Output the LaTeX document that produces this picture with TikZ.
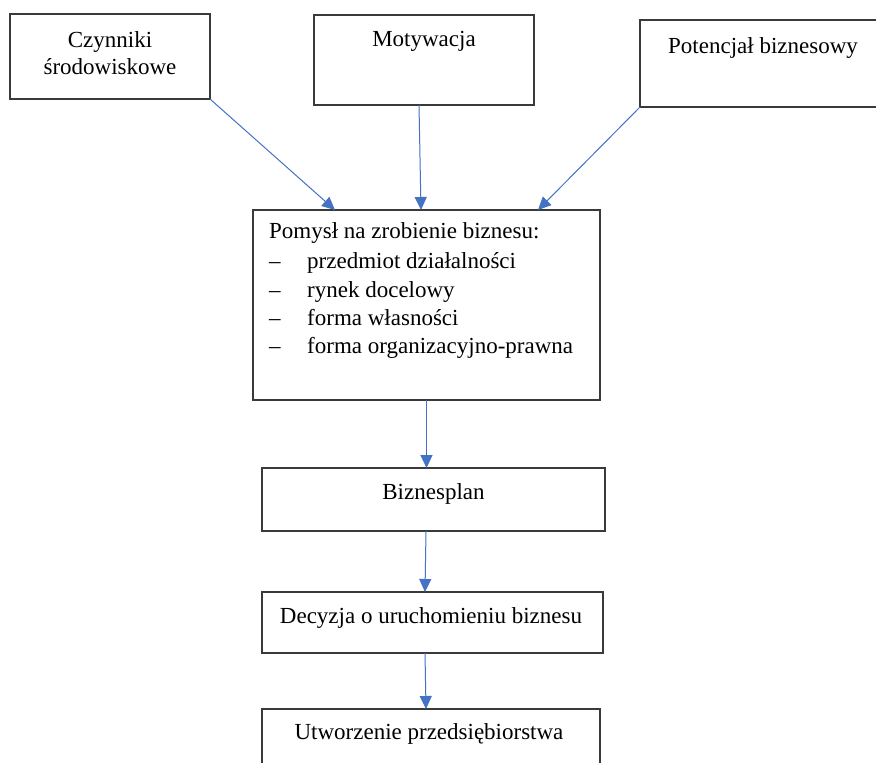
\documentclass[tikz,border=0pt]{standalone}
\usepackage{fontspec}
\setmainfont{Liberation Serif}
\usetikzlibrary{arrows.meta,calc}
\definecolor{arrowblue}{HTML}{4472C4}
\definecolor{framegray}{HTML}{3A3A3A}
\begin{document}
\begin{tikzpicture}[x=1pt,y=-1pt,
  box/.style={draw=framegray,line width=1.2pt,rectangle,inner sep=0pt,outer sep=0pt},
  txt/.style={anchor=base,inner sep=0pt,font=\fontsize{23}{28}\selectfont},
  ltxt/.style={anchor=base west,inner sep=0pt,font=\fontsize{23}{28}\selectfont},
  flow/.style={draw=arrowblue,line width=1pt,-{Triangle[length=13pt,width=12pt]}}]
\clip (0,0) rectangle (876,763);
\fill[white] (0,0) rectangle (876,763);
% boxes
\node[box,minimum width=200pt,minimum height=85pt] (b1) at (110,56.5) {};
\node[box,minimum width=220pt,minimum height=90pt] (b2) at (424,60) {};
\node[box,minimum width=250pt,minimum height=87pt] (b3) at (765,63.5) {};
\node[box,minimum width=347pt,minimum height=190pt] (b4) at (426.5,305) {};
\node[box,minimum width=343pt,minimum height=63pt] (b5) at (433.5,499.5) {};
\node[box,minimum width=341pt,minimum height=61pt] (b6) at (432.5,622.5) {};
\node[box,minimum width=338pt,minimum height=81pt] (b7) at (431,749.5) {};
% texts
\node[txt] (t1a) at (110,47) {Czynniki};
\node[txt] (t1b) at (110,74) {środowiskowe};
\node[txt] (t2) at (424,46) {Motywacja};
\node[txt] (t3) at (763,53) {Potencjał biznesowy};
\node[ltxt] (t4) at (269,238) {Pomysł na zrobienie biznesu:};
\node[ltxt] (d1) at (269,268) {–};
\node[ltxt] (i1) at (307,268) {przedmiot działalności};
\node[ltxt] (d2) at (269,297) {–};
\node[ltxt] (i2) at (307,297) {rynek docelowy};
\node[ltxt] (d3) at (269,325) {–};
\node[ltxt] (i3) at (307,325) {forma własności};
\node[ltxt] (d4) at (269,353) {–};
\node[ltxt] (i4) at (307,353) {forma organizacyjno-prawna};
\node[txt] (t5) at (433.5,499) {Biznesplan};
\node[txt] (t6) at (431,623) {Decyzja o uruchomieniu biznesu};
\node[txt] (t7) at (429,739) {Utworzenie przedsiębiorstwa};
% arrows
\draw[flow] (b1.south east) -- ($(b4.north west)+(82,0)$);
\draw[flow] ($(b2.south)+(-5,0)$) -- ($(b4.north west)+(168,0)$);
\draw[flow] (b3.south west) -- ($(b4.north west)+(285,0)$);
\draw[flow] (b4.south) -- (b4.south |- b5.north);
\draw[flow] ($(b5.south west)+(164,0)$) -- ($(b6.north west)+(163,0)$);
\draw[flow] ($(b6.south west)+(163,0)$) -- ($(b7.north west)+(164,0)$);
\end{tikzpicture}
\end{document}
